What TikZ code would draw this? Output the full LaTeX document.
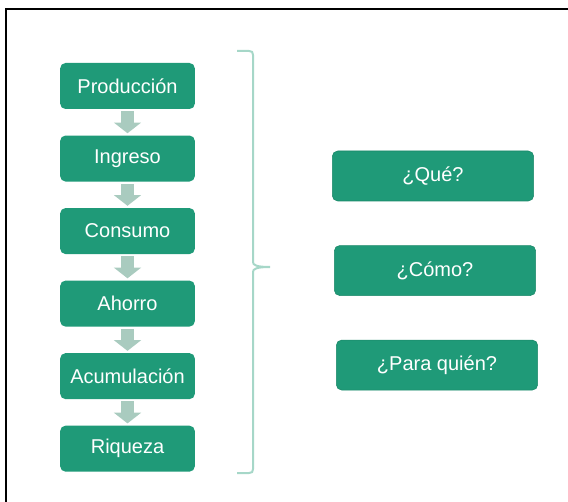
\documentclass[tikz,border=0pt]{standalone}
\usepackage{fontspec}
\setmainfont{Liberation Sans}
\usetikzlibrary{arrows.meta,positioning}
\definecolor{boxgreen}{HTML}{1F9A78}
\definecolor{boxedge}{HTML}{1A8868}
\definecolor{flowgrey}{HTML}{A9CBBF}
\definecolor{bracegreen}{HTML}{A6D7C8}
\tikzstyle{stage} = [rectangle, rounded corners=4pt, fill=boxgreen, text=white,
    minimum width=101pt, minimum height=34.5pt, inner sep=2pt, font=\fontsize{15}{18}\selectfont]
\tikzstyle{question} = [stage, draw=boxedge, thin, minimum width=151pt, minimum height=37.5pt]
\tikzstyle{flow} = [-{Triangle[width=20pt,length=8pt]}, line width=10pt, flowgrey,
    shorten <=1.5pt, shorten >=1.5pt]
\tikzstyle{bracket} = [bracegreen, line width=1.5pt]

\begin{document}
\begin{tikzpicture}[x=0.75pt, y=-0.75pt, node distance=19.5pt]
\useasboundingbox (0,0) rectangle (568,502);
\draw[line width=1.5pt] (6,502) -- (6,9) -- (568,9);

% chain on the left
\node[stage] (prod) at (127.5,86) {Producción};
\node[stage, below=of prod] (ing) {Ingreso};
\node[stage, below=of ing] (cons) {Consumo};
\node[stage, below=of cons] (ahorro) {Ahorro};
\node[stage, below=of ahorro] (acum) {Acumulación};
\node[stage, below=of acum] (riq) {Riqueza};

\draw[flow] (prod) -- (ing);
\draw[flow] (ing) -- (cons);
\draw[flow] (cons) -- (ahorro);
\draw[flow] (ahorro) -- (acum);
\draw[flow] (acum) -- (riq);

% brace
\draw[bracket] (237,51) -- (249,51) .. controls (252,51) and (253,52) .. (253,55)
    -- (253,262) .. controls (253,265) and (256,267) .. (270,267)
    .. controls (256,267) and (253,269) .. (253,272)
    -- (253,469) .. controls (253,472) and (252,473) .. (249,473) -- (237,473);

% questions
\node[question] (que) at (433,176) {¿Qué?};
\node[question, below=33pt of que, xshift=1.5pt] (como) {¿Cómo?};
\node[question, below=33pt of como, xshift=1.5pt] (para) {¿Para quién?};
\end{tikzpicture}
\end{document}
